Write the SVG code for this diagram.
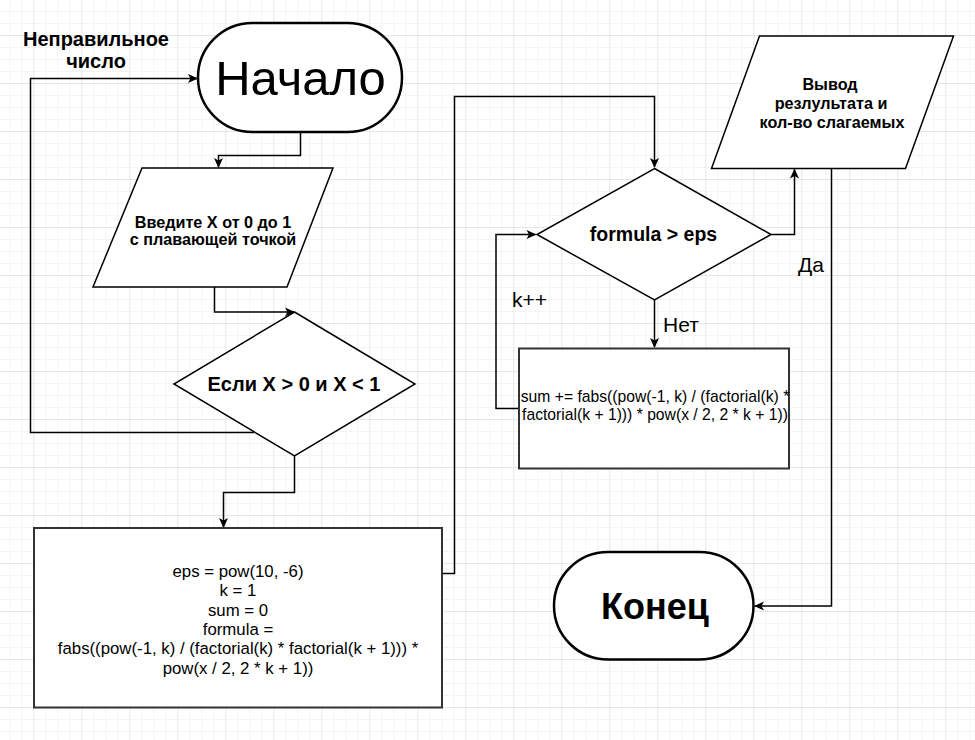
<svg xmlns="http://www.w3.org/2000/svg" width="975" height="740" viewBox="0 0 975 740">
<defs>
<pattern id="grid" patternUnits="userSpaceOnUse" x="33.3" y="35" width="48" height="48">
<rect x="12" y="0" width="1" height="48" fill="#f4f4f4"/>
<rect x="24" y="0" width="1" height="48" fill="#f4f4f4"/>
<rect x="36" y="0" width="1" height="48" fill="#f4f4f4"/>
<rect x="0" y="12" width="48" height="1" fill="#f4f4f4"/>
<rect x="0" y="24" width="48" height="1" fill="#f4f4f4"/>
<rect x="0" y="36" width="48" height="1" fill="#f4f4f4"/>
<rect x="0" y="0" width="1" height="48" fill="#e6e6e6"/>
<rect x="0" y="0" width="48" height="1" fill="#e6e6e6"/>
</pattern>
<marker id="arr" markerUnits="userSpaceOnUse" markerWidth="12" markerHeight="10" refX="9" refY="4.5" orient="auto" overflow="visible">
<path d="M0,0 L10,4.5 L0,9 L2.5,4.5 Z" fill="#000"/>
</marker>
</defs>
<style>
text{font-family:"Liberation Sans",Arial,sans-serif;fill:#000;}
.b{font-weight:bold;}
.c{text-anchor:middle;}
.term{fill:#fff;stroke:#000;stroke-width:2.5;}
.shape{fill:#fff;stroke:#000;stroke-width:1.5;}
.box{fill:#fff;stroke:#333;stroke-width:2;}
.conn{fill:none;stroke:#000;stroke-width:1.5;}
</style>
<rect width="975" height="740" fill="#fff"/>
<rect width="975" height="740" fill="url(#grid)"/>

<g id="connectors">
<polyline class="conn" points="300.5,132 300.5,155.5 218.5,155.5 218.5,167" marker-end="url(#arr)"/>
<polyline class="conn" points="214.5,287 214.5,312 294,312" marker-end="url(#arr)"/>
<polyline class="conn" points="254,432.5 30.5,432.5 30.5,78.5 197,78.5" marker-end="url(#arr)"/>
<polyline class="conn" points="294.5,456 294.5,492.5 223.5,492.5 223.5,527" marker-end="url(#arr)"/>
<polyline class="conn" points="443,573.5 454.5,573.5 454.5,96.5 654.5,96.5 654.5,167" marker-end="url(#arr)"/>
<polyline class="conn" points="771,234.5 794.5,234.5 794.5,169.5" marker-end="url(#arr)"/>
<polyline class="conn" points="654.5,300 654.5,347" marker-end="url(#arr)"/>
<polyline class="conn" points="518,408.5 496,408.5 496,234.5 535.5,234.5" marker-end="url(#arr)"/>
<polyline class="conn" points="831.5,168.5 831.5,606 755,606" marker-end="url(#arr)"/>
</g>

<g id="label-wrong">
<text class="b c" x="96" y="45.5" font-size="20">Неправильное</text>
<text class="b c" x="96" y="68.3" font-size="20">число</text>
</g>
<g id="label-yes"><text x="798" y="272" font-size="21">Да</text></g>
<g id="label-no"><text x="663" y="332" font-size="21">Нет</text></g>
<g id="label-kpp"><text x="512" y="306.5" font-size="21">k++</text></g>

<g id="start">
<rect class="term" x="198" y="23" width="204" height="109" rx="54.5" ry="54.5"/>
<text class="c" x="300.5" y="95" font-size="49">Начало</text>
</g>

<g id="input">
<polygon class="shape" points="142,168 333,168 287,287 93,287"/>
<text class="b c" x="213" y="227.5" font-size="16.2">Введите X от 0 до 1</text>
<text class="b c" x="213" y="244.5" font-size="16.2">с плавающей точкой</text>
</g>

<g id="check-x">
<polygon class="shape" points="294.5,312 415,384 294.5,456 174,384"/>
<text class="b c" x="294" y="391" font-size="20">Если X &gt; 0 и X &lt; 1</text>
</g>

<g id="init">
<rect class="box" x="34" y="528" width="408" height="179.5"/>
<text class="c" x="238" y="577" font-size="16.8">eps = pow(10, -6)</text>
<text class="c" x="238" y="596.3" font-size="16.8">k = 1</text>
<text class="c" x="238" y="615.6" font-size="16.8">sum = 0</text>
<text class="c" x="238" y="634.9" font-size="16.8">formula =</text>
<text class="c" x="238" y="654.2" font-size="16.8">fabs((pow(-1, k) / (factorial(k) * factorial(k + 1))) *</text>
<text class="c" x="238" y="673.5" font-size="16.8">pow(x / 2, 2 * k + 1))</text>
</g>

<g id="check-eps">
<polygon class="shape" points="654.5,168.5 771,234.5 654.5,300 537,234.5"/>
<text class="b c" x="653.5" y="240.5" font-size="19.5">formula &gt; eps</text>
</g>

<g id="sum">
<rect class="box" x="519" y="348.5" width="270" height="120"/>
<text class="c" x="655" y="401.7" font-size="15.7">sum += fabs((pow(-1, k) / (factorial(k) *</text>
<text class="c" x="655" y="420" font-size="15.7">factorial(k + 1))) * pow(x / 2, 2 * k + 1))</text>
</g>

<g id="output">
<polygon class="shape" points="759.5,36 953.5,36 905.5,168.5 711.5,168.5"/>
<text class="b c" x="830" y="90" font-size="16.2">Вывод</text>
<text class="b c" x="831" y="109" font-size="16.2">резлультата и</text>
<text class="b c" x="832" y="127.7" font-size="16.2">кол-во слагаемых</text>
</g>

<g id="end">
<rect class="term" x="554" y="552" width="199.5" height="107.5" rx="54" ry="54"/>
<text class="b c" x="655" y="618.5" font-size="36">Конец</text>
</g>
</svg>
